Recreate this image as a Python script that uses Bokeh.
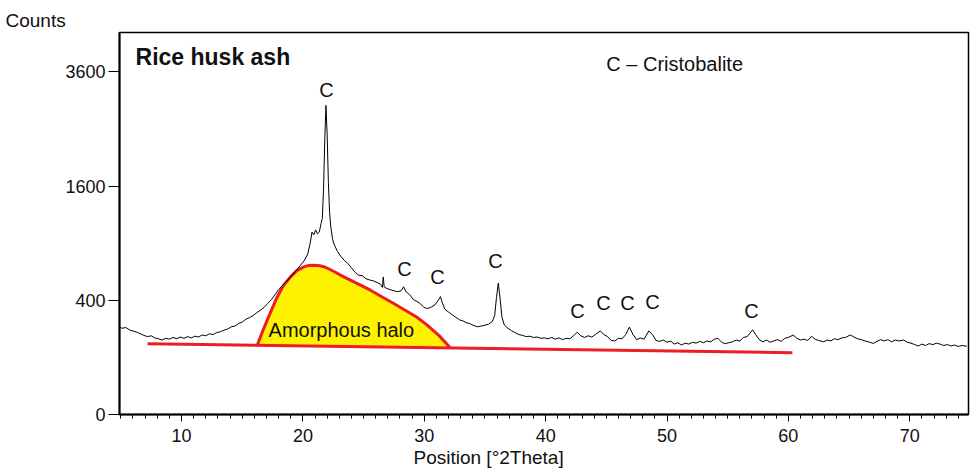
import numpy as np
from bokeh.plotting import figure
from bokeh.models import Range1d, FixedTicker, Label, ColumnDataSource, Title
from bokeh.core.properties import value
from bokeh.embed import file_html
from bokeh.resources import INLINE

# ---------------- data ----------------
two_theta = [
    4.85, 5.1, 5.4, 5.7, 6.0, 6.3, 6.6, 6.9, 7.2, 7.5, 7.8, 8.1, 8.4, 8.7, 9.0, 9.3, 9.6, 9.9,
    10.2, 10.5, 10.8, 11.1, 11.4, 11.7, 12.0, 12.3, 12.6, 12.9, 13.2, 13.5, 13.8, 14.1, 14.4,
    14.7, 15.0, 15.3, 15.6, 15.9, 16.2, 16.5, 16.8, 17.1, 17.4, 17.7, 18.0, 18.3, 18.6, 18.9,
    19.2, 19.5, 19.8, 20.1, 20.4, 20.6, 20.75, 20.9, 21.05, 21.2, 21.35, 21.5, 21.6, 21.7, 21.8,
    21.9, 22.0, 22.1, 22.2, 22.3, 22.45, 22.6, 22.85, 23.1, 23.4, 23.7, 24.0, 24.3, 24.6, 24.9,
    25.2, 25.5, 25.8, 26.1, 26.4, 26.55, 26.62, 26.7, 26.9, 27.2, 27.5, 27.8, 28.1, 28.3, 28.5,
    28.8, 29.1, 29.4, 29.7, 30.0, 30.3, 30.6, 30.9, 31.15, 31.33, 31.5, 31.7, 32.0, 32.3, 32.6,
    32.9, 33.2, 33.5, 33.8, 34.1, 34.4, 34.7, 35.0, 35.3, 35.6, 35.8, 35.95, 36.1, 36.25, 36.4,
    36.6, 36.9, 37.2, 37.5, 37.8, 38.1, 38.4, 38.7, 39.0, 39.3, 39.6, 39.9, 40.2, 40.5, 40.8,
    41.1, 41.4, 41.7, 42.0, 42.3, 42.6, 42.9, 43.2, 43.5, 43.8, 44.1, 44.5, 44.8, 45.1, 45.4,
    45.7, 46.0, 46.3, 46.6, 46.9, 47.2, 47.5, 47.8, 48.1, 48.5, 48.8, 49.1, 49.4, 49.7, 50.0,
    50.3, 50.6, 50.9, 51.2, 51.5, 51.8, 52.1, 52.4, 52.7, 53.0, 53.3, 53.6, 53.9, 54.2, 54.5,
    54.8, 55.1, 55.4, 55.7, 56.0, 56.3, 56.6, 56.8, 57.05, 57.3, 57.6, 57.9, 58.2, 58.5, 58.8,
    59.1, 59.4, 59.7, 60.0, 60.4, 60.7, 61.0, 61.3, 61.6, 61.9, 62.2, 62.5, 62.9, 63.2, 63.5,
    63.8, 64.1, 64.4, 64.7, 65.1, 65.4, 65.7, 66.0, 66.3, 66.6, 67.0, 67.3, 67.6, 67.9, 68.2,
    68.5, 68.8, 69.1, 69.5, 69.8, 70.1, 70.4, 70.7, 71.0, 71.3, 71.6, 71.9, 72.2, 72.5, 72.8,
    73.1, 73.4, 73.7, 74.0, 74.3, 74.7,
]
counts = [
    236, 228, 232, 220, 214, 208, 200, 192, 186, 190, 180, 176, 170, 178, 174, 182, 176, 184,
    178, 186, 180, 188, 184, 194, 190, 200, 196, 206, 210, 218, 224, 236, 240,
    254, 262, 278, 288, 300, 318, 334, 352, 378, 404, 440, 478, 508, 538, 572,
    606, 642, 684, 724, 790, 900, 1020, 990, 1045, 1000, 1020, 1120, 1180, 1550, 2300,
    2930, 2400, 1650, 1250, 1080, 940, 880, 815, 770, 730, 700, 660, 620, 595, 590,
    565, 555, 548, 535, 520, 495, 580, 500, 488, 478, 470, 462, 470, 500, 462,
    440, 405, 392, 375, 350, 345, 355, 370, 400, 426, 380, 340, 322, 305, 290,
    275, 268, 258, 252, 242, 236, 240, 245, 250, 265, 300, 420, 530, 410, 290,
    245, 228, 215, 205, 196, 192, 186, 188, 182, 184, 178, 180, 176, 182, 174,
    180, 172, 178, 176, 190, 208, 190, 182, 190, 184, 196, 214, 196, 186, 168,
    166, 178, 176, 196, 234, 196, 172, 180, 174, 214, 196, 168, 164, 170, 160,
    165, 152, 158, 148, 156, 152, 160, 156, 164, 158, 166, 162, 174, 178, 160,
    154, 158, 162, 170, 166, 182, 186, 200, 220, 196, 172, 162, 170, 160, 166,
    172, 164, 178, 182, 194, 178, 170, 174, 168, 188, 174, 168, 162, 170, 166,
    176, 172, 180, 182, 194, 184, 176, 172, 166, 162, 155, 164, 172, 166, 172,
    162, 170, 166, 170, 160, 156, 150, 144, 152, 146, 154, 150, 156, 152, 146,
    150, 144, 148, 142, 146, 143,
]

halo_theta = [16.24, 16.6, 17.06, 17.5, 17.88, 18.4, 18.98, 19.5, 20.07, 20.5, 20.9, 21.4,
              21.86, 22.6, 23.37, 24.5, 25.57, 26.5, 27.49, 28.5, 29.4, 30.24, 31.2, 32.16]
halo_counts = [147, 200, 273, 350, 424, 510, 581, 635, 668, 682, 684, 678,
               665, 625, 581, 525, 474, 425, 378, 330, 290, 245, 192, 136]

baseline_theta = [7.2, 60.33]
baseline_counts = [154, 117]

peak_labels = ["C", "C", "C", "C", "C", "C", "C", "C", "C"]
peak_label_theta = [21.94, 28.37, 31.09, 35.86, 42.62, 44.76, 46.74, 48.80, 56.95]
peak_label_counts = [3226, 648, 578, 721, 327, 380, 380, 387, 327]

x_ticks = [10, 20, 30, 40, 50, 60, 70]
y_tick_counts = [0, 400, 1600, 3600]

FONT = "Liberation Sans"

# square-root intensity axis: plot sqrt(counts) on a linear axis
sq = lambda a: np.sqrt(np.asarray(a, dtype=float))

p = figure(
    frame_width=849, frame_height=382,
    min_border_left=119, min_border_right=2, min_border_top=32, min_border_bottom=56,
    x_range=Range1d(4.89, 74.84), y_range=Range1d(0, 66.9),
    output_backend="svg", toolbar_location=None,
    background_fill_color="white", border_fill_color="white",
)
p.grid.visible = False
p.outline_line_color = "black"
p.outline_line_width = 1.5

# axes
xa = p.xaxis[0]
xa.ticker = FixedTicker(ticks=x_ticks, minor_ticks=list(range(5, 76)))
xa.major_tick_out = 7
xa.major_tick_in = 0
xa.minor_tick_out = 4
xa.minor_tick_in = 0
xa.axis_line_width = 2
xa.major_label_text_font = FONT
xa.major_label_text_font_size = "18px"
xa.major_label_text_color = "#111111"
xa.major_label_standoff = 7

ya = p.yaxis[0]
ya.ticker = FixedTicker(ticks=[float(v) for v in sq(y_tick_counts)], minor_ticks=[])
ya.major_label_overrides = {int(round(float(np.sqrt(c)))): str(c) for c in y_tick_counts}
ya.major_tick_out = 11
ya.major_tick_in = 0
ya.minor_tick_out = 0
ya.axis_line_width = 2
ya.major_label_text_font = FONT
ya.major_label_text_font_size = "18px"
ya.major_label_text_color = "#111111"
ya.major_label_standoff = 3

# amorphous halo (yellow area, red outline)
patch_x = list(halo_theta) + [halo_theta[-1], halo_theta[0]]
patch_y = list(sq(halo_counts)) + [float(sq([halo_counts[-1]])[0]), float(sq([halo_counts[0]])[0])]
p.patch(patch_x, patch_y, fill_color="#fff200", line_color=None)
p.line(halo_theta, sq(halo_counts), line_color="#ee1c25", line_width=3)

# baseline
p.line(baseline_theta, sq(baseline_counts), line_color="#ee1c25", line_width=3)

# pattern
p.line(two_theta, sq(counts), line_color="black", line_width=1)

# peak labels
src = ColumnDataSource(dict(x=peak_label_theta, y=sq(peak_label_counts), t=peak_labels))
p.text(x="x", y="y", text="t", source=src, text_font=value(FONT), text_font_size="20px",
       text_align="center", text_baseline="middle", text_color="#111111")

# annotations inside the frame
p.add_layout(Label(x=6.21, y=62.57, text="Rice husk ash", text_font=FONT, text_font_size="23px",
                   text_font_style="bold", text_baseline="middle", text_color="#111111"))
p.add_layout(Label(x=45.0, y=61.47, text="C \u2013 Cristobalite", text_font=FONT,
                   text_font_size="20px", text_baseline="middle", text_color="#111111"))
p.add_layout(Label(x=17.17, y=14.76, text="Amorphous halo", text_font=FONT,
                   text_font_size="20px", text_baseline="middle", text_color="#111111"))

# axis titles placed as side-panel titles
p.add_layout(Title(text="Counts", align="left", offset=-114, standoff=4, text_font=FONT,
                   text_font_size="19px", text_font_style="normal", text_color="#111111"),
             "above")
p.add_layout(Title(text="Position [\u00b02Theta]", align="left", offset=294, standoff=0,
                   text_font=FONT, text_font_size="19px", text_font_style="normal",
                   text_color="#111111"), "below")

open("out.html", "w").write(file_html(p, INLINE))
